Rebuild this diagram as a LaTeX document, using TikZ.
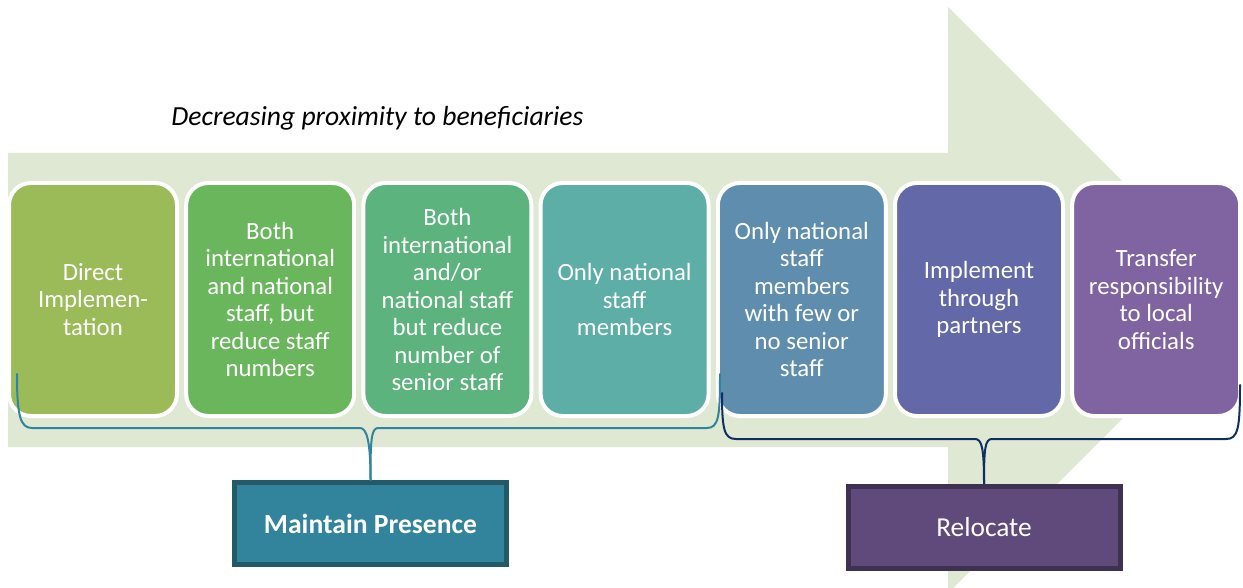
\documentclass[tikz,border=0pt]{standalone}
\usepackage{fontspec}
\setmainfont{Carlito}

\begin{document}
\begin{tikzpicture}[x=0.5pt,y=-0.5pt]
			\definecolor{arrowColour}{RGB}{223, 232, 211}
			\definecolor{stageOne}{RGB}{155, 187, 89}
			\definecolor{stageTwo}{RGB}{106, 182, 92}
			\definecolor{stageThree}{RGB}{93, 179, 126}
			\definecolor{stageFour}{RGB}{93, 174, 166}
			\definecolor{stageFive}{RGB}{95, 141, 174}
			\definecolor{stageSix}{RGB}{98, 104, 168}
			\definecolor{stageSeven}{RGB}{128, 100, 162}
			\definecolor{presenceFill}{RGB}{49, 132, 155}
			\definecolor{presenceLine}{RGB}{35, 89, 104}
			\definecolor{relocateFill}{RGB}{96, 74, 123}
			\definecolor{relocateLine}{RGB}{63, 49, 81}
			\definecolor{relocateBrace}{RGB}{16, 46, 100}
			\tikzstyle{stage}=[rectangle, rounded corners=11pt, draw=white, line width=2pt, minimum width=84pt, minimum height=116.5pt, inner sep=0pt, text=white, align=center, font=\fontsize{12.4}{13.75}\selectfont]
			\tikzstyle{group}=[rectangle, line width=2.5pt, minimum width=136pt, minimum height=41pt, inner sep=0pt, text=white, font=\fontsize{13.7}{16}\selectfont]
			\tikzstyle{brace}=[line width=1pt, line cap=round]

			\clip (0,0) rectangle (1243,588);
			\fill [arrowColour] (8,153) -- (948,153) -- (948,7) -- (1241,300) -- (948,593) -- (948,447) -- (8,447) -- cycle;

			\node [anchor=west, inner sep=0pt, font=\itshape\fontsize{13.8}{16}\selectfont] (title) at (171,118) {Decreasing proximity to beneficiaries};

			\node [stage, fill=stageOne] (s1) at (93,299.5) {Direct\\Implemen-\\tation};
			\node [stage, fill=stageTwo] (s2) at (270.2,299.5) {Both\\international\\and national\\staff, but\\reduce staff\\numbers};
			\node [stage, fill=stageThree] (s3) at (447.4,299.5) {Both\\international\\and/or\\national staff\\but reduce\\number of\\senior staff};
			\node [stage, fill=stageFour] (s4) at (624.6,299.5) {Only national\\staff\\members};
			\node [stage, fill=stageFive] (s5) at (801.8,299.5) {Only national\\staff\\members\\with few or\\no senior\\staff};
			\node [stage, fill=stageSix] (s6) at (979,299.5) {Implement\\through\\partners};
			\node [stage, fill=stageSeven] (s7) at (1156.2,299.5) {Transfer\\responsibility\\to local\\officials};

			\node [group, fill=presenceFill, draw=presenceLine, font=\bfseries\fontsize{13.8}{16}\selectfont] (presence) at (370.5,523.5) {Maintain Presence};
			\node [group, fill=relocateFill, draw=relocateLine] (relocate) at (984,527) {Relocate};

			\coordinate (presenceL) at (17,374);
			\coordinate (presenceR) at (720,374);
			\coordinate (relocateL) at (722,393);
			\coordinate (relocateR) at (1240,385);

			\draw [brace, color=presenceFill] (presenceL) .. controls +(0,41) and +(-12,0) .. (32,428) -- (360,428) .. controls +(7,0) and +(0,-38) .. (presence.north);
			\draw [brace, color=presenceFill] (presenceR) .. controls +(0,41) and +(12,0) .. (707,428) -- (378,428) .. controls +(-7,0) and +(0,-38) .. (presence.north);
			\draw [brace, color=relocateBrace] (relocateL) .. controls +(0,36) and +(-12,0) .. (736,439) -- (975,439) .. controls +(7,0) and +(0,-35) .. (relocate.north);
			\draw [brace, color=relocateBrace] (relocateR) .. controls +(0,44) and +(12,0) .. (1226,439) -- (992,439) .. controls +(-7,0) and +(0,-35) .. (relocate.north);
		\end{tikzpicture}
\end{document}
